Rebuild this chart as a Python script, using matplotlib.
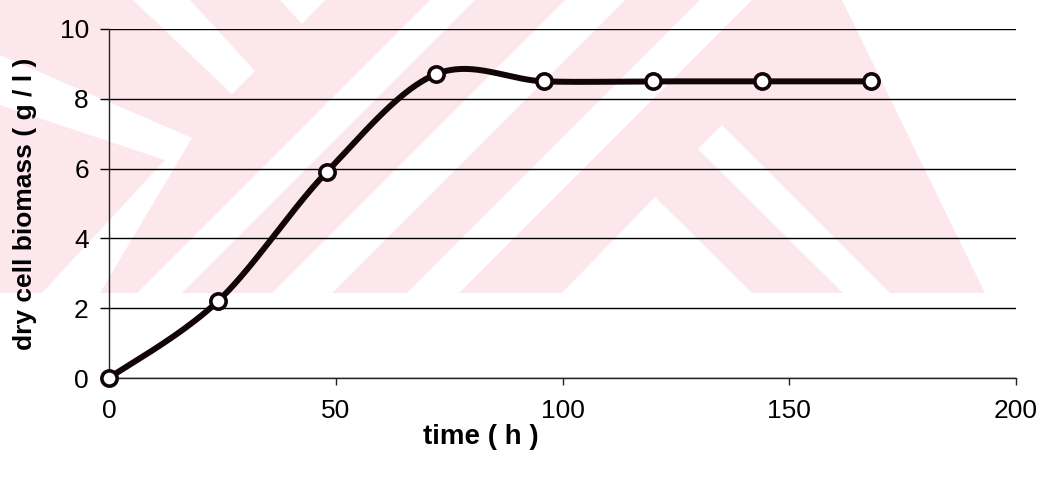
import numpy as np
import matplotlib.pyplot as plt
from matplotlib.patches import Polygon

plt.rcParams['font.family'] = ['Liberation Sans', 'DejaVu Sans']

# growth curve
time_h = [0, 24, 48, 72, 96, 120, 144, 168]
biomass = [0, 2.2, 5.9, 8.7, 8.5, 8.5, 8.5, 8.5]

x_ticks = [0, 50, 100, 150, 200]
y_ticks = [0, 2, 4, 6, 8, 10]

W, H = 1046, 479
pink = '#fce8ec'

# light logo shapes in the background (figure pixels, y pointing down)
logo_fill = [(0, 0), (842, 0), (985, 293), (0, 293)]
logo_gaps = [
    [(133, 0), (190, 0), (255, 71), (232, 94)],
    [(0, 55), (192, 138), (100, 293), (42, 293), (165, 160), (0, 105)],
    [(280, 0), (325, 0), (302, 24)],
    [(430, 0), (475, 0), (182, 293), (137, 293)],
    [(565, 0), (625, 0), (332, 293), (272, 293)],
    [(700, 0), (752, 0), (459, 293), (407, 293)],
    [(562, 293), (655, 197), (752, 293)],
    [(722, 125), (890, 293), (843, 293), (698, 149)],
]


def smooth_line(xs, ys, sx, sy, n=40):
    # bezier smoothing through every point, done in pixel-like units
    p = np.column_stack([np.asarray(xs, float) / sx, np.asarray(ys, float) / sy])
    out = [p[0]]
    t = np.linspace(0, 1, n)[1:, None]
    for i in range(len(p) - 1):
        prev = p[i - 1] if i > 0 else p[i]
        nxt = p[i + 2] if i + 2 < len(p) else p[i + 1]
        c1 = p[i] + (p[i + 1] - prev) / 6
        c2 = p[i + 1] - (nxt - p[i]) / 6
        seg = (1 - t)**3 * p[i] + 3 * (1 - t)**2 * t * c1 + 3 * (1 - t) * t**2 * c2 + t**3 * p[i + 1]
        out.extend(seg)
    out = np.array(out)
    return out[:, 0] * sx, out[:, 1] * sy


fig = plt.figure(figsize=(W / 100, H / 100), dpi=100)

bg = fig.add_axes([0, 0, 1, 1], zorder=0)
bg.set_xlim(0, W)
bg.set_ylim(H, 0)
bg.axis('off')
bg.add_patch(Polygon(logo_fill, closed=True, color=pink, lw=0))
for g in logo_gaps:
    bg.add_patch(Polygon(g, closed=True, color='white', lw=0))

left, right, top, bottom = 109, 1016, 29, 378
ax = fig.add_axes([left / W, 1 - bottom / H, (right - left) / W, (bottom - top) / H], zorder=1)
ax.set_facecolor('none')
ax.set_xlim(0, 200)
ax.set_ylim(0, 10)

sx = 200 / (right - left)
sy = 10 / (bottom - top)
cx, cy = smooth_line(time_h, biomass, sx, sy)
ax.plot(cx, cy, color='#120508', lw=4.3, solid_capstyle='round', clip_on=False, zorder=3)
ax.plot(time_h, biomass, ls='none', marker='o', ms=11, mfc='white', mec='#120508',
        mew=2.6, clip_on=False, zorder=4)

ax.set_xticks(x_ticks)
ax.set_yticks(y_ticks)
ax.grid(axis='y', color='black', lw=1.0)
ax.set_axisbelow(True)
for s in ['top', 'right']:
    ax.spines[s].set_visible(False)
for s in ['left', 'bottom']:
    ax.spines[s].set_color('#222222')
    ax.spines[s].set_linewidth(1.0)

ax.tick_params(axis='y', length=6.5, width=1, pad=8, labelsize=19, color='black')
ax.tick_params(axis='x', length=5, width=1, pad=10, labelsize=19, color='#222222')

ax.set_xlabel('time ( h )', fontsize=20, fontweight='bold', va='center')
ax.xaxis.set_label_coords((481 - left) / (right - left), -(437 - bottom) / (bottom - top))
ax.set_ylabel('dry cell biomass ( g / l )', fontsize=19, fontweight='bold', va='center')
ax.yaxis.set_label_coords((25 - left) / (right - left), 0.5)

fig.savefig('out.png', dpi=100)
